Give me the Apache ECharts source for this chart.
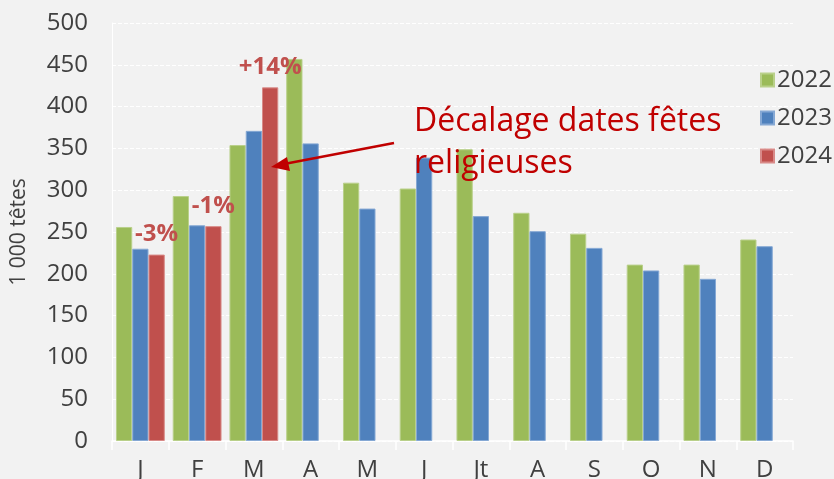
<!DOCTYPE html>
<html>
<head>
<meta charset="utf-8">
<script src="https://cdn.jsdelivr.net/npm/echarts@6/dist/echarts.min.js"></script>
<style>
  html, body { margin: 0; padding: 0; background: #f2f2f2; }
  #main { width: 834px; height: 479px; }
</style>
</head>
<body>
<div id="main"></div>
<script>
var months = ['J', 'F', 'M', 'A', 'M', 'J', 'Jt', 'A', 'S', 'O', 'N', 'D'];
var values2022 = [256, 293, 354, 457, 309, 302, 349, 273, 248, 211, 211, 241];
var values2023 = [230, 258, 371, 356, 278, 339, 269, 251, 231, 204, 194, 233];
var values2024 = [223, 257, 423, null, null, null, null, null, null, null, null, null];
var changeLabels = ['-3%', '-1%', '+14%'];
var yTicks = [0, 50, 100, 150, 200, 250, 300, 350, 400, 450, 500];

var font = "'Open Sans', sans-serif";
var myChart = echarts.init(document.getElementById('main'));

function barSeries(name, data, color, border) {
    return {
        name: name,
        type: 'bar',
        data: data,
        barGap: '0%',
        barCategoryGap: '14%',
        itemStyle: { color: color, borderColor: border, borderWidth: 1 }
    };
}

var s2024 = barSeries('2024', values2024, '#c0504d', '#d88a88');
s2024.label = {
    show: true,
    position: 'top',
    distance: 8,
    color: '#c0504d',
    fontFamily: font,
    fontWeight: 'bold',
    fontSize: 24,
    formatter: function (p) { return changeLabels[p.dataIndex] || ''; }
};

var option = {
    backgroundColor: '#f2f2f2',
    animation: false,
    textStyle: { fontFamily: font },
    grid: { left: 112, right: 41, top: 23, bottom: 38, outerBoundsMode: 'none', containLabel: false },
    legend: {
        orient: 'vertical',
        left: 755,
        top: 62,
        itemWidth: 13,
        itemHeight: 13,
        itemGap: 12,
        icon: 'rect',
        textStyle: { fontFamily: font, fontSize: 24, color: '#404040', lineHeight: 26, padding: [0, 0, 0, -2] },
        data: ['2022', '2023', '2024']
    },
    xAxis: {
        type: 'category',
        data: months,
        axisLine: { lineStyle: { color: '#ffffff', width: 1.5 } },
        axisTick: { show: true, length: 9, lineStyle: { color: '#ffffff', width: 1.5 } },
        axisLabel: { color: '#404040', fontSize: 24, fontFamily: font, margin: 17 }
    },
    yAxis: {
        type: 'value',
        min: yTicks[0],
        max: yTicks[yTicks.length - 1],
        interval: 50,
        name: '1 000 têtes',
        nameLocation: 'middle',
        nameRotate: 90,
        nameGap: 82,
        nameTextStyle: { color: '#404040', fontSize: 21, fontFamily: font },
        axisLine: { show: true, lineStyle: { color: '#ffffff', width: 1 } },
        axisTick: { show: false },
        splitLine: { lineStyle: { color: '#ffffff', type: [4, 2], width: 1 } },
        axisLabel: { color: '#404040', fontSize: 24, fontFamily: font, margin: 24 }
    },
    series: [
        barSeries('2022', values2022, '#9bbb59', '#b9d08a'),
        barSeries('2023', values2023, '#4f81bd', '#85a8d4'),
        s2024
    ],
    graphic: [
        {
            type: 'text',
            left: 414,
            top: 101,
            z: 100,
            style: {
                text: 'Décalage dates fêtes\nreligieuses',
                fill: '#c00000',
                font: '32px ' + font,
                lineHeight: 42
            }
        },
        {
            type: 'line',
            z: 100,
            shape: { x1: 394, y1: 143, x2: 284, y2: 164 },
            style: { stroke: '#c00000', lineWidth: 2.5 }
        },
        {
            type: 'polygon',
            z: 100,
            shape: { points: [[271, 167], [287, 157], [290, 171]] },
            style: { fill: '#c00000' }
        }
    ]
};
myChart.setOption(option);
</script>
</body>
</html>
